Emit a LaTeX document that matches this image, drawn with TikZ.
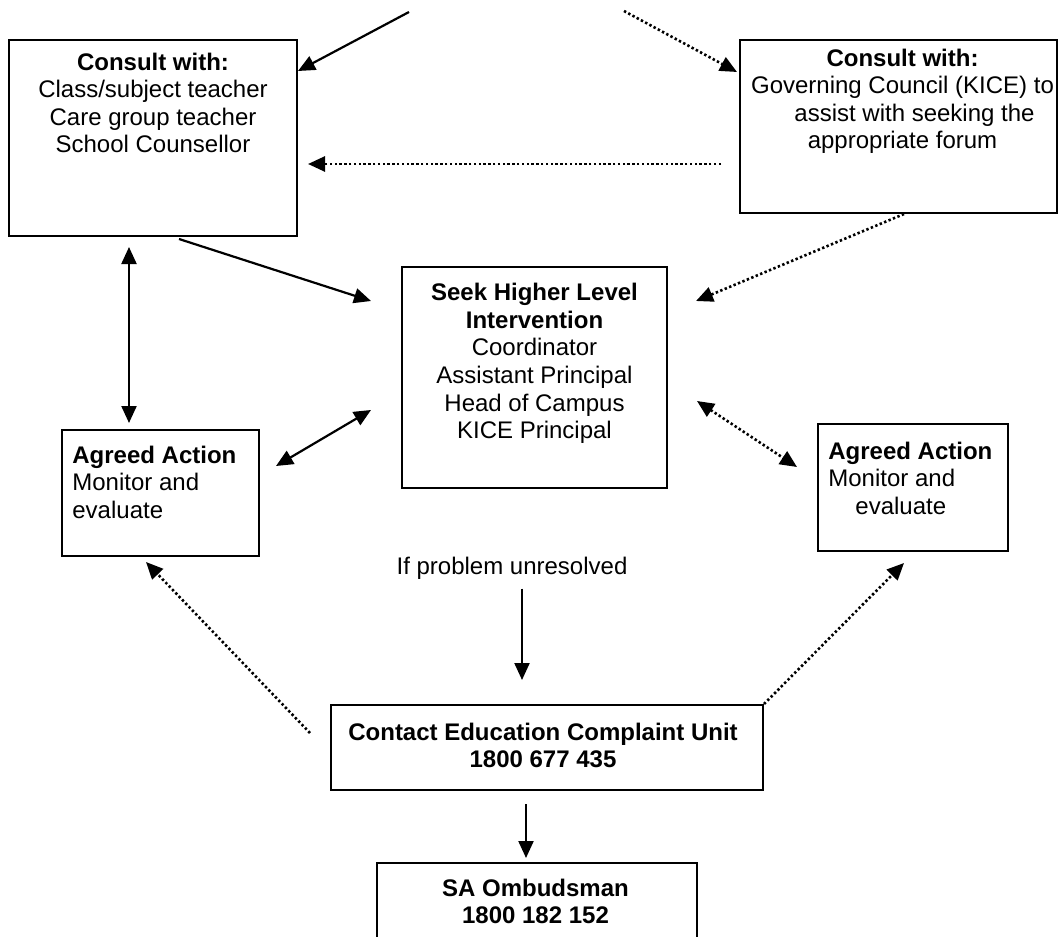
\documentclass[tikz,border=0pt]{standalone}
\usepackage{fontspec}
\setmainfont{Liberation Sans}
\usetikzlibrary{arrows.meta}
\usetikzlibrary{calc}
\usetikzlibrary{positioning}
\tikzset{box/.style={draw, line width=1pt, inner sep=0pt}}
\tikzset{txt/.style={inner sep=0pt, font=\fontsize{12}{13.8}\selectfont}}
\tikzset{link/.style={line width=1.1pt, ->}}
\tikzset{dotlink/.style={link, line width=1.3pt, dash pattern=on 1.2pt off 1.2pt}}

\begin{document}
\begin{tikzpicture}[x=0.5pt,y=-0.5pt,>={Triangle[length=8.5pt,width=7.5pt]}]
  \clip (0,0) rectangle (1059,936);
  \foreach \x/\y/\w/\h/\lab in {
    153/138/144/98/lconsult,
    898.5/126.5/158.5/86.5/rconsult,
    534.5/377.5/132.5/110.5/seek,
    160.5/493/98.5/63/lagreed,
    913/487.5/95/63.5/ragreed,
    547/747.5/216/42.5/contact,
    537/911.5/160/48.5/ombud%
  } {
    \node[box, minimum width=\w pt, minimum height=\h pt] (\lab) at (\x, \y) {};
  }
  % texts in the boxes
  \node[txt, align=center, below=6.7pt of lconsult.north] (lconsulttxt)
    {\textbf{Consult with:}\\Class/subject teacher\\Care group teacher\\School Counsellor};
  \node[txt, align=center, below=4.7pt of rconsult.north, xshift=2pt] (rconsulttxt)
    {\textbf{Consult with:}\\Governing Council (KICE) to\\\hspace*{12pt}assist with seeking the\\appropriate forum};
  \node[txt, align=center, below=8.5pt of seek.north] (seektxt)
    {\textbf{Seek Higher Level}\\\textbf{Intervention}\\Coordinator\\Assistant Principal\\Head of Campus\\KICE Principal};
  \node[txt, align=left, below right=8.2pt and 5.5pt of lagreed.north west] (lagreedtxt)
    {\textbf{Agreed Action}\\Monitor and\\evaluate};
  \node[txt, align=left, below right=9.2pt and 5.5pt of ragreed.north west] (ragreedtxt)
    {\textbf{Agreed Action}\\Monitor and\\\hspace*{13.5pt}evaluate};
  \node[txt, align=center, below=9.2pt of contact.north, xshift=-2pt] (contacttxt)
    {\textbf{Contact Education Complaint Unit}\\\textbf{1800 677 435}};
  \node[txt, align=center, below=8.2pt of ombud.north, xshift=-0.75pt] (ombudtxt)
    {\textbf{SA Ombudsman}\\\textbf{1800 182 152}};
  \node[txt] (unres) at (512,568) {If problem unresolved};

  % connectors
  \coordinate (topl) at (409,12);
  \coordinate (topr) at (624,11);
  \draw[link] (topl) -- ($(lconsult.north east)+(0,32)$);
  \draw[dotlink] (topr) -- ($(rconsult.north west)+(-2,33)$);
  \draw[dotlink] ($(rconsult.north west)+(-18,125)$) -- ($(lconsult.north east)+(10,125)$);
  \draw[link] ($(lconsult.south west)+(171,2)$) -- ($(seek.north west)+(-30,35)$);
  \draw[dotlink] ($(rconsult.south west)+(165,0)$) -- ($(seek.north east)+(28,35)$);
  \draw[link, <->] ($(lconsult.south west)+(121,10)$) -- ($(lagreed.north west)+(68,-6)$);
  \draw[link, <->] ($(lagreed.north east)+(16,37)$) -- ($(seek.north west)+(-30,144)$);
  \draw[dotlink, <->] ($(seek.north east)+(29,135)$) -- ($(ragreed.north west)+(-20,44)$);
  \draw[dotlink] ($(contact.north west)+(-20,29)$) -- ($(lagreed.south west)+(85,5)$);
  \draw[dotlink] (contact.north east) -- ($(ragreed.south west)+(87,11)$);
  \draw[link] ($(unres.south)+(10,9)$) -- ($(contact.north)+(-25,-24)$);
  \draw[link] ($(contact.south)+(-21,13)$) -- ($(ombud.north)+(-11,-4)$);
\end{tikzpicture}
\end{document}
